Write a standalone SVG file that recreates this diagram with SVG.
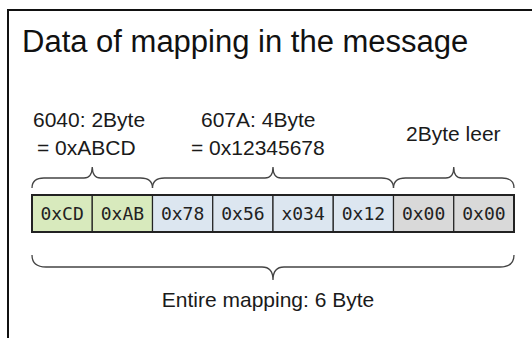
<svg xmlns="http://www.w3.org/2000/svg" width="532" height="338" viewBox="0 0 532 338">
<style>
.lbl{font-family:"Liberation Sans",Arial,sans-serif;font-size:21px;fill:#1a1a1a}
.title{font-family:"Liberation Sans",Arial,sans-serif;font-size:31px;fill:#111}
.cell{stroke:#222;stroke-width:1.2}
.val{font-family:"DejaVu Sans Mono",monospace;font-size:18px;fill:#222;text-anchor:middle}
.brace{fill:none;stroke:#444;stroke-width:1.3}
.g{fill:#d8eabd}.b{fill:#dce6f0}.n{fill:#d9d9d9}
</style>
<rect x="8" y="10" width="540" height="340" fill="#fff" stroke="#111" stroke-width="2"/>
<text class="title" x="22" y="52">Data of mapping in the message</text>
<g id="label-6040"><text class="lbl" x="33" y="127">6040: 2Byte</text><text class="lbl" x="37" y="155">= 0xABCD</text></g>
<g id="label-607A"><text class="lbl" x="201" y="127">607A: 4Byte</text><text class="lbl" x="191" y="155">= 0x12345678</text></g>
<g id="label-leer"><text class="lbl" x="406" y="141">2Byte leer</text></g>
<g id="cells">
<g id="c1"><rect class="cell g" x="32" y="195" width="60.25" height="37"/><text class="val" x="62.1" y="220">0xCD</text></g>
<g id="c2"><rect class="cell g" x="92.25" y="195" width="60.25" height="37"/><text class="val" x="122.4" y="220">0xAB</text></g>
<g id="c3"><rect class="cell b" x="152.5" y="195" width="60.25" height="37"/><text class="val" x="182.6" y="220">0x78</text></g>
<g id="c4"><rect class="cell b" x="212.75" y="195" width="60.25" height="37"/><text class="val" x="242.9" y="220">0x56</text></g>
<g id="c5"><rect class="cell b" x="273" y="195" width="60.25" height="37"/><text class="val" x="303.1" y="220">x034</text></g>
<g id="c6"><rect class="cell b" x="333.25" y="195" width="60.25" height="37"/><text class="val" x="363.4" y="220">0x12</text></g>
<g id="c7"><rect class="cell n" x="393.5" y="195" width="60.25" height="37"/><text class="val" x="423.6" y="220">0x00</text></g>
<g id="c8"><rect class="cell n" x="453.75" y="195" width="60.25" height="37"/><text class="val" x="483.9" y="220">0x00</text></g>
<rect x="32" y="195" width="482" height="37" fill="none" stroke="#222" stroke-width="2"/>
</g>
<g id="connectors">
<path class="brace" d="M32,188 Q32,178 44,178 L84,178 Q92,178 92.25,167 Q92.5,178 100.5,178 L140.5,178 Q152.5,178 152.5,188"/>
<path class="brace" d="M152.5,188 Q152.5,178 164.5,178 L265,178 Q273,178 273,167 Q273,178 281,178 L381.5,178 Q393.5,178 393.5,188"/>
<path class="brace" d="M393.5,188 Q393.5,178 405.5,178 L445.75,178 Q453.75,178 453.75,167 Q453.75,178 461.75,178 L502,178 Q514,178 514,188"/>
<path class="brace" d="M32,255 Q32,267 46,267 L262,267 Q273,267 273,280 Q273,267 284,267 L500,267 Q514,267 514,255"/>
</g>
<text class="lbl" x="268" y="307" text-anchor="middle">Entire mapping: 6 Byte</text>
</svg>
